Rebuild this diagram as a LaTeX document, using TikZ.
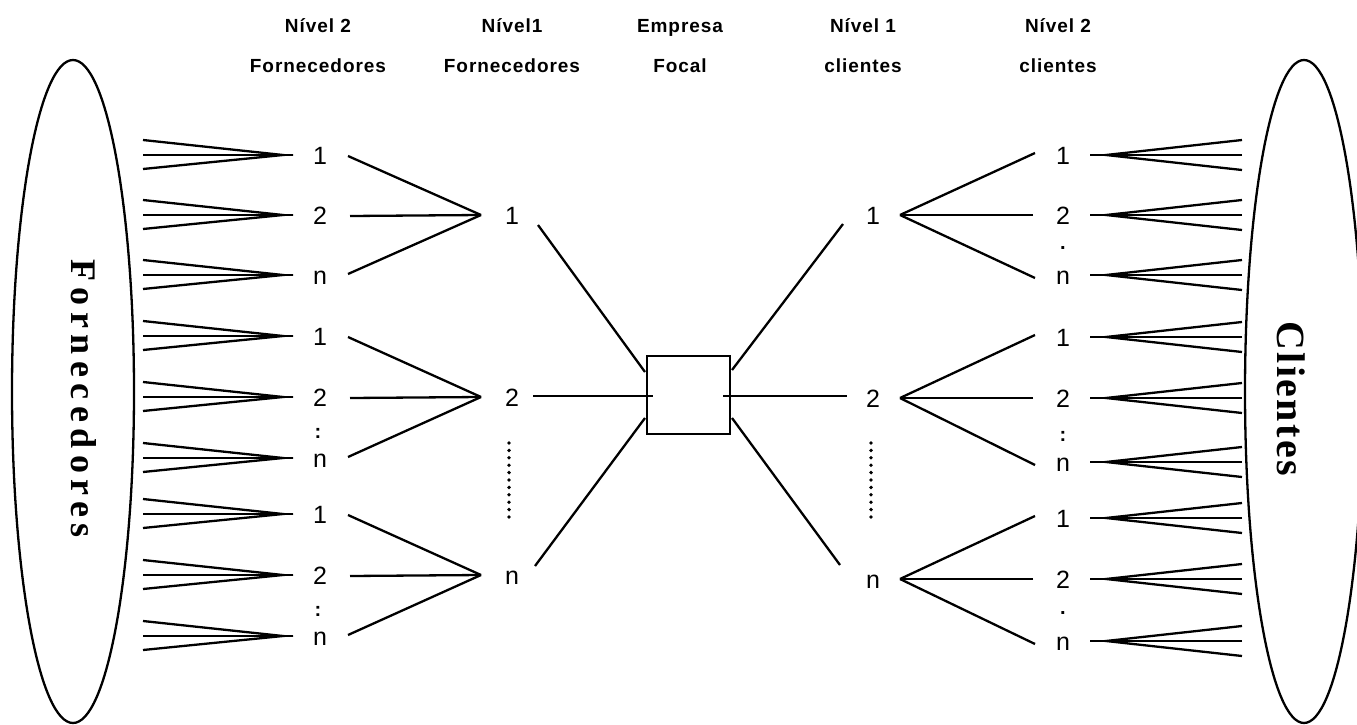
\documentclass[tikz,border=0pt]{standalone}
\usepackage{fontspec}
\setmainfont{Liberation Sans}
\newfontfamily\headfont{Liberation Sans}[LetterSpace=5]
\newfontfamily\sideFfont{Liberation Serif}[LetterSpace=18]
\newfontfamily\sideCfont{Liberation Serif}[LetterSpace=6]
\begin{document}
\begin{tikzpicture}[x=1pt,y=-1pt,line width=2.3pt,
  num/.style={font=\fontsize{25}{25}\selectfont,anchor=base,inner sep=0pt},
  head/.style={font=\headfont\bfseries\fontsize{19}{19}\selectfont,anchor=base,inner sep=0pt},
  sep/.style={font=\bfseries\fontsize{20}{20}\selectfont,anchor=base,inner sep=0pt},
  focalbox/.style={draw,line width=2.3pt,minimum width=83pt,minimum height=78pt,inner sep=0pt},
  dotline/.style={line width=3.8pt,line cap=round,dash pattern=on 0pt off 7.4pt},
  side/.style={rotate=-90,anchor=base,inner sep=0pt}]
\useasboundingbox (0,0) rectangle (1357,725);

% outer ellipses
\draw (73,391.5) ellipse [x radius=61,y radius=331.5];
\draw (1304,391.5) ellipse [x radius=59,y radius=331.5];
\node[side,font=\sideFfont\bfseries\fontsize{36}{36}\selectfont] (forn) at (71,398.5) {Fornecedores};
\node[side,font=\sideCfont\bfseries\fontsize{40}{40}\selectfont] (cli) at (1277,398.5) {Clientes};

% column headings
\node[head] (h1a) at (318,33) {Nível 2};
\node[head] (h1b) at (318,72) {Fornecedores};
\node[head] (h2a) at (512,33) {Nível1};
\node[head] (h2b) at (512,72) {Fornecedores};
\node[head] (h3a) at (680,33) {Empresa};
\node[head] (h3b) at (680,72) {Focal};
\node[head] (h4a) at (863,33) {Nível 1};
\node[head] (h4b) at (863,72) {clientes};
\node[head] (h5a) at (1058,33) {Nível 2};
\node[head] (h5b) at (1058,72) {clientes};

% focal company
\node[focalbox] (focal) at (688.5,395) {};

% first-tier suppliers and customers
\node[num] (s1) at (512,224) {1};
\node[num] (s2) at (512,406) {2};
\node[num] (sn) at (512,584) {n};
\node[num] (c1) at (873,224) {1};
\node[num] (c2) at (873,407) {2};
\node[num] (cn) at (873,588) {n};
\draw[dotline] (509,443) coordinate (sd0) -- (509,523) coordinate (sd1);
\draw[dotline] (871,443) coordinate (cd0) -- (871,523) coordinate (cd1);

% links to the focal company
\coordinate (s1e) at (538,225);  \coordinate (f1w) at (645,372);
\coordinate (s2e) at (533,396);  \coordinate (f2w) at (653,396);
\coordinate (sne) at (535,566);  \coordinate (f3w) at (645,418);
\coordinate (c1w) at (843,224);  \coordinate (f1e) at (732,370);
\coordinate (c2w) at (847,396);  \coordinate (f2e) at (723,396);
\coordinate (cnw) at (840,565);  \coordinate (f3e) at (732,418);
\draw (s1e) -- (f1w);
\draw (s2e) -- (f2w);
\draw (sne) -- (f3w);
\draw (f1e) -- (c1w);
\draw (f2e) -- (c2w);
\draw (f3e) -- (cnw);

% second-tier suppliers
\foreach \g/\ya/\yb/\yc/\yv in {a/155/215/275/215, b/336/397/458/397, c/514/575/636/575} {
  \node[num] (l\g1) at (320,\ya+9) {1};
  \node[num] (l\g2) at (320,\yb+9) {2};
  \node[num] (l\g n) at (320,\yc+9) {n};
  \coordinate (lv\g) at (481,\yv);
  \coordinate (l\g1e) at (348,\ya+1);
  \coordinate (l\g2e) at (350,\yb+1);
  \coordinate (l\g ne) at (348,\yc-1);
  \draw (l\g1e) -- (lv\g);
  \draw (l\g2e) -- (lv\g);
  \draw (l\g ne) -- (lv\g);
  \foreach \y in {\ya,\yb,\yc} {
    \coordinate (tipo) at (283,\y);
    \coordinate (tipm) at (293,\y);
    \coordinate (ft) at (143,\y-15);
    \coordinate (fm) at (143,\y);
    \coordinate (fb) at (143,\y+14);
    \draw (ft) -- (tipo) -- (fb);
    \draw (fm) -- (tipm);
  }
}
\node[sep] (lbsep) at (318,438) {:};
\node[sep] (lcsep) at (318,616) {:};

% second-tier customers
\foreach \g/\ya/\yb/\yc/\yv in {a/155/215/275/215, b/337/398/462/398, c/518/579/641/579} {
  \node[num] (r\g1) at (1063,\ya+9) {1};
  \node[num] (r\g2) at (1063,\yb+9) {2};
  \node[num] (r\g n) at (1063,\yc+9) {n};
  \coordinate (rv\g) at (900,\yv);
  \coordinate (r\g1w) at (1035,\ya-2);
  \coordinate (r\g2w) at (1033,\yb);
  \coordinate (r\g nw) at (1035,\yc+3);
  \draw (r\g1w) -- (rv\g);
  \draw (r\g2w) -- (rv\g);
  \draw (r\g nw) -- (rv\g);
  \foreach \y in {\ya,\yb,\yc} {
    \coordinate (tipo) at (1106,\y);
    \coordinate (tipm) at (1090,\y);
    \coordinate (ft) at (1242,\y-15);
    \coordinate (fm) at (1242,\y);
    \coordinate (fb) at (1242,\y+15);
    \draw (ft) -- (tipo) -- (fb);
    \draw (fm) -- (tipm);
  }
}
\node[sep] (rasep) at (1063,249) {.};
\node[sep] (rbsep) at (1063,441) {:};
\node[sep] (rcsep) at (1063,614) {.};
\end{tikzpicture}
\end{document}
